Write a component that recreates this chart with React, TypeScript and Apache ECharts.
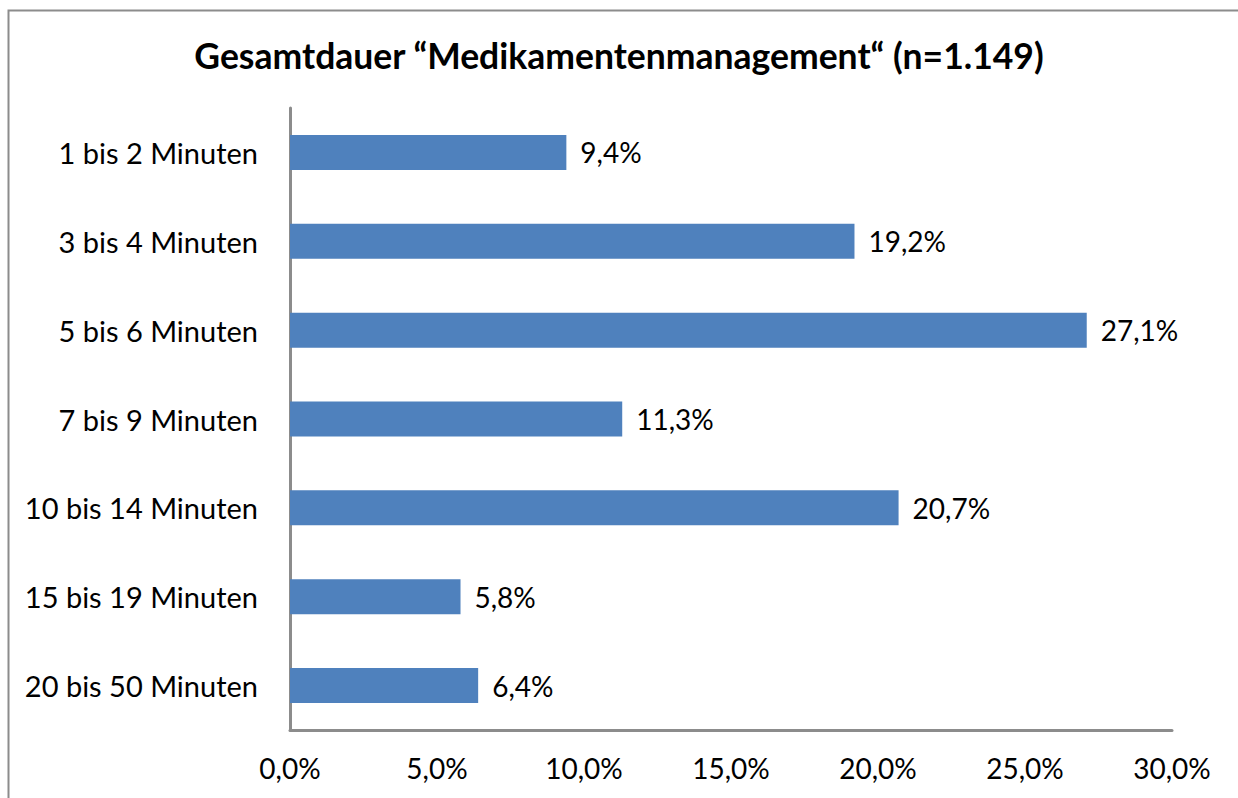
import React, { useEffect, useRef } from "react";
import * as echarts from "echarts";

const titleText = "Gesamtdauer “Medikamentenmanagement“ (n=1.149)";
const categories = [
  "1 bis 2 Minuten",
  "3 bis 4 Minuten",
  "5 bis 6 Minuten",
  "7 bis 9 Minuten",
  "10 bis 14 Minuten",
  "15 bis 19 Minuten",
  "20 bis 50 Minuten",
];
const shares = [9.4, 19.2, 27.1, 11.3, 20.7, 5.8, 6.4];
const axisMin = 0;
const axisMax = 30;
const axisStep = 5;

const FONT = "Lato, 'Open Sans', sans-serif";
const fmt = (v: number) => v.toFixed(1).replace(".", ",") + "%";

export default function App() {
  const ref = useRef<HTMLDivElement>(null);
  useEffect(() => {
    if (!ref.current) return;
    const chart = echarts.init(ref.current, undefined, { renderer: "svg" });
    chart.setOption({
      animation: false,
      backgroundColor: "#ffffff",
      textStyle: { fontFamily: FONT },
      title: {
        text: titleText,
        left: "center",
        top: 32,
        itemGap: 0,
        textStyle: { fontFamily: FONT, fontSize: 35.5, fontWeight: "bold", color: "#000" },
      },
      graphic: [
        {
          type: "rect",
          shape: { x: 8.5, y: 10.5, width: 1240, height: 800 },
          style: { fill: "none", stroke: "#8c8c8c", lineWidth: 2 },
          silent: true,
        },
      ],
      grid: { left: 290, right: 66, top: 108, bottom: 68, containLabel: false },
      xAxis: {
        type: "value",
        min: axisMin,
        max: axisMax,
        interval: axisStep,
        axisLine: { show: true, lineStyle: { color: "#8c8c8c", width: 3 } },
        axisTick: { show: false },
        splitLine: { show: false },
        axisLabel: {
          formatter: (v: number) => fmt(v),
          fontFamily: FONT,
          fontSize: 28,
          color: "#000",
          margin: 24,
        },
      },
      yAxis: {
        type: "category",
        data: categories,
        inverse: true,
        axisLine: { show: true, lineStyle: { color: "#8c8c8c", width: 3 } },
        axisTick: { show: false },
        axisLabel: { fontFamily: FONT, fontSize: 29, color: "#000", margin: 32 },
      },
      series: [
        {
          type: "bar",
          data: shares,
          barWidth: 35,
          itemStyle: { color: "#4f81bd" },
          label: {
            show: true,
            position: "right",
            distance: 14,
            formatter: (p: any) => fmt(p.value),
            fontFamily: FONT,
            fontSize: 28,
            color: "#000",
          },
        },
      ],
    });
    return () => chart.dispose();
  }, []);
  return (
    <div
      ref={ref}
      style={{ position: "absolute", left: 0, top: 0, width: 1238, height: 798 }}
    />
  );
}
